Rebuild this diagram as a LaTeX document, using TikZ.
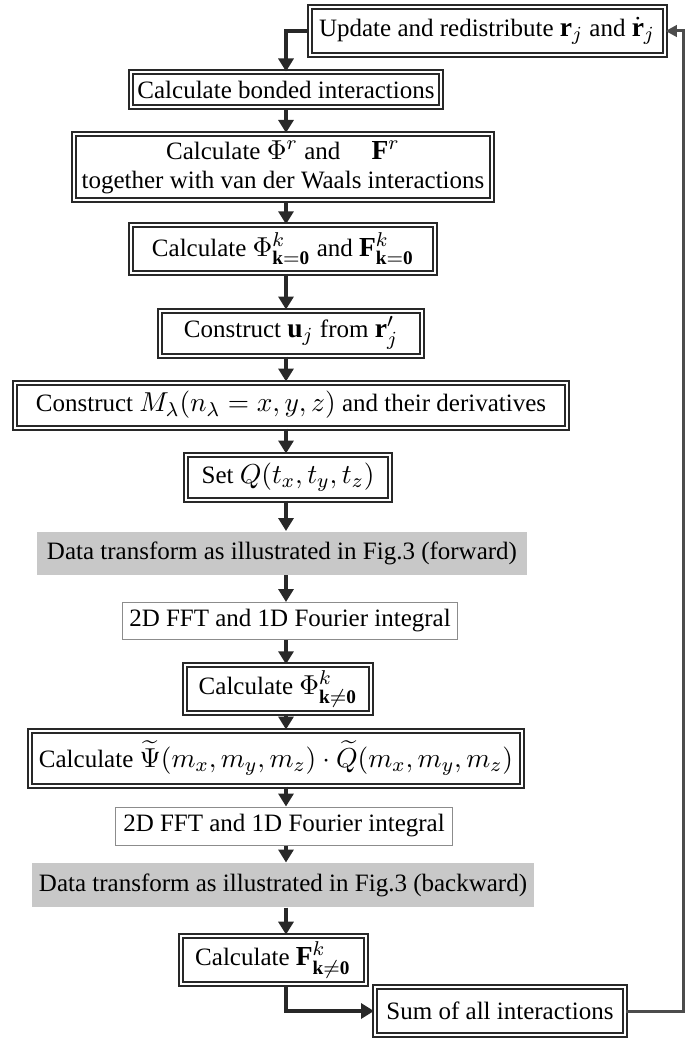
\documentclass[tikz,border=0pt]{standalone}
\usepackage{amsmath,amssymb}
\usepackage{fontspec}
\setmainfont{Liberation Serif}
\usepackage{tikz}
\usetikzlibrary{positioning,calc}
\usetikzlibrary{arrows.meta}
\definecolor{FlowDark}{RGB}{40,40,40}
\definecolor{DataGray}{RGB}{200,200,200}
\newcommand{\mth}[1]{{\fontsize{11}{12}\selectfont$#1$}}
\tikzset{
	stage/.style={draw=FlowDark,double=white,line width=0.8pt,double distance=0.8pt,
		inner sep=2pt,align=center,font=\fontsize{10}{11.6}\selectfont},
	grey/.style={fill=DataGray,inner sep=2pt,font=\fontsize{10}{11.6}\selectfont},
	plain/.style={draw=black!45,line width=0.4pt,fill=white,inner sep=2pt,font=\fontsize{10}{11.6}\selectfont},
	flow/.style={draw=FlowDark,line width=1.9pt,-{Triangle[width=6pt,length=5.2pt]}},
	back/.style={draw=black!70,line width=1.2pt,-{Triangle[width=4.5pt,length=4.5pt]}},
}

\begin{document}
\begin{tikzpicture}[x=0.4pt,y=-0.4pt]
			\useasboundingbox (0,0) rectangle (685,1039);
			\coordinate (spine) at (286,0);
			\coordinate (rim) at (683,0);
			\node[stage,minimum width=142pt,minimum height=19pt] (upd) at (487,31) {Update and redistribute \mth{\mathbf{r}_j} and \mth{\dot{\mathbf{r}}_j}};
			\node[stage,minimum width=124pt,minimum height=14pt] (bond) at (286,90) {Calculate bonded interactions};
			\node[stage,minimum width=167pt,minimum height=26.5pt] (phir) at (283,167) {Calculate \mth{\Phi^r} and \quad\mth{\mathbf{F}^r}\\together with van der Waals interactions};
			\node[stage,minimum width=121.5pt,minimum height=19pt] (phik) at (283,249) {Calculate \mth{\Phi^k_{\mathbf{k=0}}} and \mth{\mathbf{F}^k_{\mathbf{k=0}}}};
			\node[stage,minimum width=105pt,minimum height=18pt] (cu) at (291,333) {Construct \mth{\mathbf{u}_j} from \mth{\mathbf{r}'_j}};
			\node[stage,minimum width=221pt,minimum height=18pt] (cm) at (291,405) {Construct \mth{M_\lambda(n_\lambda=x,y,z)} and their derivatives};
			\node[stage,minimum width=81.5pt,minimum height=18pt] (setq) at (288,477) {Set \mth{Q(t_x,t_y,t_z)}};
			\node[grey,minimum width=196pt,minimum height=17.2pt] (dfw) at (282,553) {Data transform as illustrated in Fig.3 (forward)};
			\node[plain,minimum width=134pt,minimum height=14.8pt] (fft) at (290,621) {2D FFT and 1D Fourier integral};
			\node[stage,minimum width=74.5pt,minimum height=19pt] (phin) at (278,689) {Calculate \mth{\Phi^k_{\mathbf{k\neq0}}}};
			\node[stage,minimum width=193pt,minimum height=22pt,inner xsep=3.5pt] (psi) at (276,758) {Calculate \mth{\widetilde{\Psi}(m_x,m_y,m_z)\cdot\widetilde{Q}(m_x,m_y,m_z)}};
			\node[plain,minimum width=134.4pt,minimum height=15.2pt] (ifft) at (284,826) {2D FFT and 1D Fourier integral};
			\node[grey,minimum width=200.4pt,minimum height=17.6pt] (dbw) at (283,885) {Data transform as illustrated in Fig.3 (backward)};
			\node[stage,minimum width=74pt,minimum height=19.5pt] (fn) at (273,960) {Calculate \mth{\mathbf{F}^k_{\mathbf{k\neq0}}}};
			\node[stage,minimum width=100pt,minimum height=19pt] (sum) at (500,1011) {Sum of all interactions};
			% main column
			\draw[flow] (upd.west) -| (bond.north);
			\foreach \a/\b in {bond/phir,phir/phik,phik/cu,cu/cm,cm/setq,setq/dfw,dfw/fft,fft/phin,phin/psi,psi/ifft,ifft/dbw,dbw/fn}
			\draw[flow] (\a.south -| spine) -- (\b.north -| spine);
			\draw[flow] (fn.south -| spine) |- (sum.west);
			% feedback loop
			\draw[back] (sum.east) -- (sum.east -| rim) -- (upd.east -| rim) -- (upd.east);
		\end{tikzpicture}
\end{document}
